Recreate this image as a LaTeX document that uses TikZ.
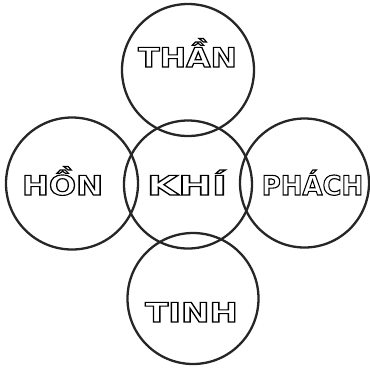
\documentclass[tikz,border=0pt]{standalone}
\usepackage{fontspec}
\setmainfont{DejaVu Sans}
\newcommand{\hollow}[2]{\scalebox{#1}[1]{\special{pdf:literal direct 1 Tr 1.1 w}#2\special{pdf:literal direct 0 Tr}}}
\tikzset{
  ring/.style={circle, draw=black!85, line width=2.3pt, inner sep=0pt, minimum size=#1},
  word/.style={inner sep=0pt, anchor=base, font=\fontsize{27}{27}\selectfont\bfseries}
}
\begin{document}
\begin{tikzpicture}[x=1pt,y=-1pt]
\useasboundingbox (0,0) rectangle (370,368);
\node[ring=132pt] (top) at (188,70) {};
\node[ring=128pt] (mid) at (188,184.5) {};
\node[ring=132pt] (left) at (72,183.5) {};
\node[ring=129pt] (right) at (304.5,183) {};
\node[ring=131pt] (bot) at (193,298.5) {};
\node[word] (than) at (187.5,67) {\hollow{1.17}{THẦN}};
\node[word] (hon) at (62.5,195) {\hollow{1.19}{HỒN}};
\node[word] (khi) at (187,195) {\hollow{1.49}{KHÍ}};
\node[word] (phach) at (312.5,195) {\hollow{0.96}{PHÁCH}};
\node[word] (tinh) at (191.5,322) {\hollow{1.26}{TINH}};
\end{tikzpicture}
\end{document}
